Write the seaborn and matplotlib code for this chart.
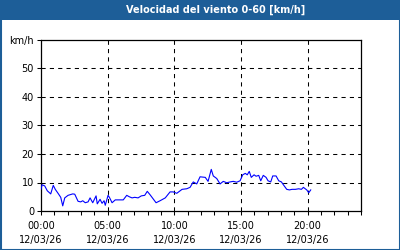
import matplotlib
matplotlib.use("Agg")
import matplotlib.pyplot as plt
import seaborn as sns
import pandas as pd
from matplotlib.patches import Rectangle

# Data (hours since 00:00, wind speed km/h)
hours = [0.0, 0.08, 0.28, 0.47, 0.73, 0.92, 1.07, 1.28, 1.48, 1.63, 1.78, 2.03, 2.38, 2.53,
         2.78, 2.98, 3.13, 3.32, 3.53, 3.68, 3.88, 4.13, 4.22, 4.43, 4.58, 4.73, 4.82, 5.03,
         5.13, 5.33, 5.57, 6.17, 6.43, 6.62, 6.83, 7.03, 7.28, 7.52, 7.78, 7.97, 8.18, 8.63,
         8.93, 9.32, 9.68, 9.92, 10.18, 10.58, 10.93, 11.18, 11.42, 11.68, 11.93, 12.32, 12.53,
         12.77, 12.92, 13.18, 13.43, 13.67, 13.93, 14.18, 14.42, 14.68, 14.93, 15.13, 15.32,
         15.47, 15.62, 15.77, 15.98, 16.13, 16.33, 16.48, 16.67, 16.88, 17.03, 17.23, 17.38,
         17.63, 17.83, 18.03, 18.18, 18.43, 18.63, 18.83, 19.08, 19.33, 19.53, 19.68, 19.93,
         20.08, 20.23]
speed = [7.6, 9.2, 8.8, 7.1, 6.0, 9.0, 7.6, 6.2, 4.8, 1.8, 4.6, 5.5, 6.0, 5.9,
         3.4, 3.2, 3.6, 2.9, 3.2, 4.6, 2.9, 5.3, 2.5, 4.1, 2.7, 3.6, 2.0, 5.5,
         4.8, 2.9, 3.9, 3.9, 5.5, 5.0, 4.6, 4.8, 4.6, 5.3, 5.5, 6.9, 5.7, 2.9,
         3.6, 4.6, 6.7, 6.7, 6.2, 7.6, 7.8, 8.3, 10.2, 9.5, 12.0, 11.8, 10.4,
         14.6, 12.3, 11.4, 9.5, 10.4, 9.9, 10.2, 10.4, 10.1, 10.6, 12.7, 13.2,
         12.7, 13.9, 11.8, 12.7, 12.2, 12.5, 10.6, 12.5, 11.8, 10.6, 10.2, 12.3,
         12.3, 10.6, 10.2, 9.2, 7.6, 7.4, 7.6, 7.6, 7.8, 7.6, 8.3, 7.4,
         6.4, 7.4]

x_tick_pos = [0, 5, 10, 15, 20]
x_tick_labels = ["00:00\n12/03/26", "05:00\n12/03/26", "10:00\n12/03/26",
                 "15:00\n12/03/26", "20:00\n12/03/26"]
y_ticks = [0, 10, 20, 30, 40, 50, 60]
y_tick_labels = ["0", "10", "20", "30", "40", "50", "km/h"]
title = "Velocidad del viento 0-60 [km/h]"

df = pd.DataFrame({"h": hours, "v": speed})

fig = plt.figure(figsize=(4, 2.5), dpi=100, facecolor="white")
ax = fig.add_axes([41/400, 1 - 211/250, 320/400, 171/250])

sns.lineplot(data=df, x="h", y="v", ax=ax, color="#0000ff", linewidth=0.8, zorder=3)

ax.set_xlim(0, 24)
ax.set_ylim(0, 60)
ax.set_xlabel("")
ax.set_ylabel("")

ax.set_xticks(x_tick_pos)
ax.set_xticklabels(x_tick_labels, fontsize=7, linespacing=1.5)
ax.set_xticks(range(0, 25), minor=True)
ax.set_yticks(y_ticks)
ax.set_yticklabels(y_tick_labels, fontsize=7)
ax.tick_params(axis="both", which="both", direction="out", length=3, width=0.75, color="black")
ax.tick_params(axis="x", pad=4)
ax.tick_params(axis="y", pad=2)

for v in [10, 20, 30, 40, 50]:
    ax.axhline(v, color="black", linestyle=(0, (4, 4)), linewidth=0.75, zorder=1)
for v in [5, 10, 15, 20]:
    ax.axvline(v, color="black", linestyle=(0, (4, 4)), linewidth=0.75, zorder=1)

for s in ax.spines.values():
    s.set_visible(True)
    s.set_color("black")
    s.set_linewidth(0.9)

# title bar and frame
blue = "#1d5e98"
fig.patches.append(Rectangle((0, 1 - 20/250), 1, 20/250, transform=fig.transFigure,
                             facecolor=blue, edgecolor="none", zorder=0))
fig.patches.append(Rectangle((0.5/400, 0.5/250), 399/400, 249/250, transform=fig.transFigure,
                             facecolor="none", edgecolor=blue, linewidth=1.5, zorder=5))
fig.text(216/400, 1 - 10/250, title, color="white", fontsize=7, fontweight="bold",
         ha="center", va="center")

fig.savefig("out.png", dpi=100, facecolor="white")
